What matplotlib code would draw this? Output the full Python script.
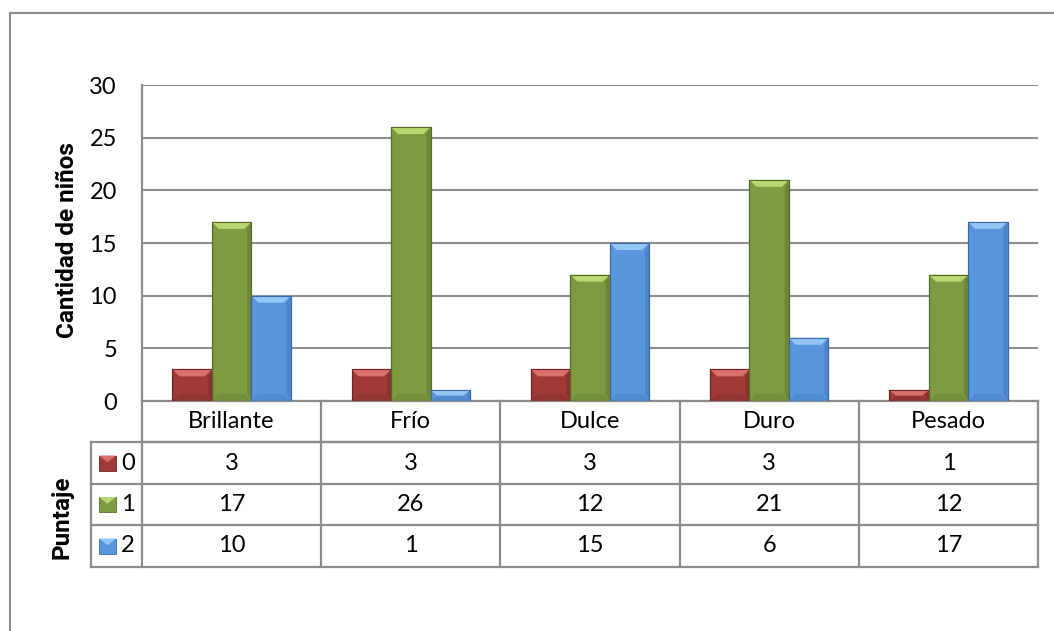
import matplotlib
matplotlib.use('Agg')
import matplotlib.pyplot as plt
from matplotlib.patches import Polygon, Rectangle
from matplotlib.lines import Line2D
import matplotlib.transforms as mtransforms

# ---------------- data ----------------
categories = ['Brillante', 'Frío', 'Dulce', 'Duro', 'Pesado']
series_names = ['0', '1', '2']
values_0 = [3, 3, 3, 3, 1]
values_1 = [17, 26, 12, 21, 12]
values_2 = [10, 1, 15, 6, 17]
series_values = [values_0, values_1, values_2]
yticks = [0, 5, 10, 15, 20, 25, 30]
ylabel = 'Cantidad de niños'
table_title = 'Puntaje'

# ---------------- style ----------------
plt.rcParams['font.family'] = ['Lato', 'DejaVu Sans']
FS = 17
BOLD_FAMILY = ['Roboto', 'DejaVu Sans']
BOLD_FS = 17.5
GRID = '#8c8c8c'
body_colors = ['#a03a37', '#7f9b41', '#5a96de']
top_colors = ['#d9706c', '#b8d872', '#93c6f5']
side_colors = ['#842e2c', '#677f33', '#4a7fc0']
bottom_colors = ['#8e3331', '#718a39', '#5087cc']
edge_colors = ['#6a2523', '#546a2a', '#3b68a3']

W, H = 1054, 631
fig = plt.figure(figsize=(W / 100, H / 100), dpi=100)


def fx(px):
    return px / W


def fy(py):
    return 1 - py / H


L, R, T, B = 142, 1038, 85, 401
ax = fig.add_axes([fx(L), fy(B), (R - L) / W, (B - T) / H])
ncat = len(categories)
ax.set_xlim(0, ncat)
ax.set_ylim(0, 30)
ax.set_yticks(yticks)
ax.set_xticks([])
ax.tick_params(axis='y', length=0, pad=18, labelsize=FS, colors='black')
ax.yaxis.grid(True, color=GRID, lw=1.5)
ax.set_axisbelow(True)
for s in ['top', 'right']:
    ax.spines[s].set_visible(False)
for s in ['left', 'bottom']:
    ax.spines[s].set_color(GRID)
    ax.spines[s].set_linewidth(1.6)

# bars with a bevel look
bw = 0.22
offsets = [-bw, 0.0, bw]
px_per_x = (R - L) / ncat
px_per_y = (B - T) / 30.0
bev = 7.0
dx = bev / px_per_x
dy_full = bev / px_per_y

for si, vals in enumerate(series_values):
    for ci, v in enumerate(vals):
        xc = ci + 0.5 + offsets[si]
        ax.bar(xc, v, width=bw, color=body_colors[si], edgecolor=edge_colors[si],
               linewidth=0.8, zorder=3)
        x0 = xc - bw / 2
        x1 = xc + bw / 2
        dy = min(dy_full, v / 2.0)
        ax.add_patch(Polygon([(x0, v), (x1, v), (x1 - dx, v - dy), (x0 + dx, v - dy)],
                             closed=True, facecolor=top_colors[si], edgecolor='none', zorder=4))
        ax.add_patch(Polygon([(x1, 0), (x1, v), (x1 - dx * 0.6, v - dy), (x1 - dx * 0.6, dy)],
                             closed=True, facecolor=side_colors[si], edgecolor='none', zorder=4, alpha=0.7))
        ax.add_patch(Polygon([(x0, 0), (x1, 0), (x1 - dx, dy), (x0 + dx, dy)],
                             closed=True, facecolor=bottom_colors[si], edgecolor='none', zorder=4, alpha=0.8))
        ax.add_patch(Rectangle((x0, 0), bw, v, facecolor='none', edgecolor=edge_colors[si],
                               linewidth=0.8, zorder=5))

# y label
fig.text(fx(68), fy(240), ylabel, rotation=90, ha='center', va='center',
         fontsize=BOLD_FS, fontweight='bold', family=BOLD_FAMILY)

# ---------------- data table ----------------
trans = mtransforms.blended_transform_factory(ax.transData, fig.transFigure)
row_y = [401, 442, 484, 525, 567]
LEG_L = 91

# horizontal lines
fig.add_artist(Line2D([fx(L), fx(R)], [fy(row_y[1])] * 2, color=GRID, lw=1.6))
for yy in row_y[1:]:
    fig.add_artist(Line2D([fx(LEG_L), fx(R)], [fy(yy)] * 2, color=GRID, lw=1.6))
# vertical lines
for c in range(ncat + 1):
    fig.add_artist(Line2D([c, c], [fy(row_y[0]), fy(row_y[-1])], color=GRID, lw=1.6,
                          transform=trans))
fig.add_artist(Line2D([fx(LEG_L)] * 2, [fy(row_y[1]), fy(row_y[-1])], color=GRID, lw=1.6))

# header row (categories)
for ci, cat in enumerate(categories):
    fig.text(ci + 0.5, fy((row_y[0] + row_y[1]) / 2), cat, ha='center', va='center',
             fontsize=FS, transform=trans)

# value rows
for si, vals in enumerate(series_values):
    yc = fy((row_y[si + 1] + row_y[si + 2]) / 2)
    for ci, v in enumerate(vals):
        fig.text(ci + 0.5, yc, str(v), ha='center', va='center', fontsize=FS, transform=trans)
    # legend key
    kx0, kx1 = 99, 116
    kh = 15
    ypx = (row_y[si + 1] + row_y[si + 2]) / 2
    ky0 = ypx - kh / 2
    fig.add_artist(Rectangle((fx(kx0), fy(ky0 + kh)), (kx1 - kx0) / W, kh / H,
                             facecolor=body_colors[si], edgecolor=edge_colors[si], lw=0.6))
    fig.add_artist(Polygon([(fx(kx0), fy(ky0)), (fx(kx1), fy(ky0)),
                            (fx((kx0 + kx1) / 2), fy(ky0 + kh * 0.45))],
                           closed=True, facecolor=top_colors[si], edgecolor='none'))
    fig.text(fx(121), yc, series_names[si], ha='left', va='center', fontsize=FS)

fig.text(fx(62), fy(517), table_title, rotation=90, ha='center', va='center',
         fontsize=BOLD_FS, fontweight='bold', family=BOLD_FAMILY)

# outer chart border (left and top visible)
fig.add_artist(Line2D([fx(9.5), fx(9.5)], [fy(13), 0], color=GRID, lw=1.5))
fig.add_artist(Line2D([fx(9.5), 1], [fy(13), fy(13)], color=GRID, lw=1.5))

fig.savefig('out.png', dpi=100, facecolor='white')
